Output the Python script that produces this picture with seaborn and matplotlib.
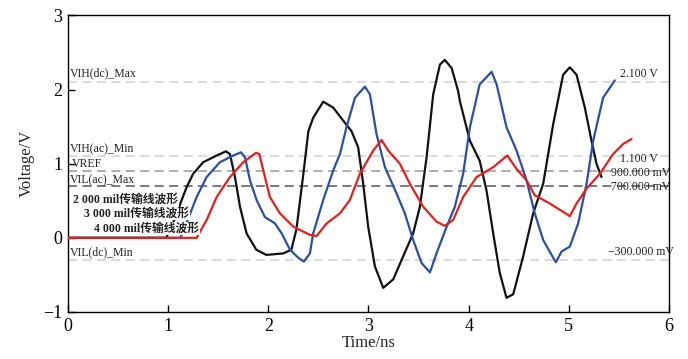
import matplotlib
matplotlib.use("Agg")
import matplotlib.pyplot as plt
import seaborn as sns
import pandas as pd

# ---- data ----
t_2000 = [0.0, 0.98, 1.05, 1.135, 1.185, 1.25, 1.35, 1.484, 1.577, 1.617, 1.667, 1.717, 1.783, 1.88, 1.98,
          2.15, 2.23, 2.28, 2.35, 2.40, 2.448, 2.548, 2.648, 2.748, 2.83, 2.897, 2.947, 2.997, 3.064,
          3.147, 3.247, 3.346, 3.446, 3.513, 3.58, 3.646, 3.713, 3.762, 3.83, 3.895, 3.912, 4.012, 4.11,
          4.178, 4.245, 4.31, 4.378, 4.445, 4.544, 4.644, 4.744, 4.844, 4.943, 5.01, 5.077, 5.16, 5.226,
          5.276, 5.326]
v_2000 = [0.0, 0.0, 0.2, 0.51, 0.685, 0.865, 1.02, 1.11, 1.167, 1.13, 0.82, 0.42, 0.06, -0.16, -0.23,
          -0.21, -0.16, 0.11, 0.865, 1.44, 1.62, 1.837, 1.756, 1.58, 1.44, 1.22, 0.73, 0.15, -0.386,
          -0.675, -0.56, -0.25, 0.06, 0.42, 1.087, 1.936, 2.337, 2.40, 2.29, 1.98, 1.846, 1.31, 1.04,
          0.64, 0.06, -0.47, -0.81, -0.76, -0.25, 0.33, 0.73, 1.534, 2.20, 2.30, 2.20, 1.756, 1.31,
          1.0, 0.82]

t_3000 = [0.0, 1.12, 1.16, 1.2, 1.284, 1.384, 1.517, 1.65, 1.727, 1.767, 1.817, 1.883, 1.966, 2.066, 2.133,
          2.216, 2.30, 2.355, 2.415, 2.448, 2.548, 2.648, 2.715, 2.78, 2.865, 2.964, 3.014, 3.08, 3.164,
          3.28, 3.363, 3.446, 3.53, 3.613, 3.68, 3.78, 3.862, 3.945, 4.012, 4.11, 4.229, 4.279, 4.378,
          4.478, 4.578, 4.66, 4.744, 4.87, 4.927, 5.01, 5.093, 5.177, 5.243, 5.342, 5.459]
v_3000 = [0.0, 0.0, 0.1, 0.26, 0.55, 0.82, 1.02, 1.11, 1.154, 1.087, 0.775, 0.51, 0.28, 0.195, 0.06,
          -0.16, -0.27, -0.32, -0.21, 0.06, 0.51, 0.91, 1.13, 1.49, 1.89, 2.04, 1.936, 1.40, 0.953,
          0.60, 0.33, -0.03, -0.34, -0.466, -0.206, 0.15, 0.42, 0.865, 1.49, 2.07, 2.24, 2.07, 1.49,
          1.177, 0.775, 0.33, -0.03, -0.33, -0.185, -0.118, 0.195, 0.73, 1.31, 1.89, 2.123]

t_4000 = [0.0, 1.284, 1.384, 1.484, 1.617, 1.75, 1.876, 1.91, 1.966, 2.016, 2.116, 2.25, 2.415, 2.482,
          2.582, 2.715, 2.814, 2.914, 3.047, 3.13, 3.197, 3.313, 3.413, 3.546, 3.68, 3.762, 3.845, 3.945,
          4.079, 4.245, 4.385, 4.478, 4.578, 4.66, 4.81, 4.943, 5.01, 5.077, 5.177, 5.31, 5.442, 5.542,
          5.626]
v_4000 = [0.0, 0.0, 0.24, 0.55, 0.82, 1.02, 1.146, 1.13, 0.82, 0.55, 0.33, 0.15, 0.04, 0.025,
          0.195, 0.33, 0.51, 0.865, 1.177, 1.32, 1.177, 1.0, 0.73, 0.42, 0.217, 0.163, 0.24, 0.55,
          0.82, 0.953, 1.11, 0.93, 0.775, 0.574, 0.463, 0.35, 0.293, 0.463, 0.664, 0.865, 1.13, 1.266,
          1.333]

series_names = ["2 000 mil传输线波形", "3 000 mil传输线波形", "4 000 mil传输线波形"]

ref_levels = [2.1, 1.1, 0.9, 0.7, -0.3]
ref_left_labels = ["VIH(dc)_Max", "VIH(ac)_Min", "VREF", "VIL(ac)_Max", "VIL(dc)_Min"]
ref_right_labels = ["2.100 V", "1.100 V", "900.000 mV", "700.000 mV", "\u2212300.000 mV"]

x_ticks = [0, 1, 2, 3, 4, 5, 6]
y_ticks = [-1, 0, 1, 2, 3]

# ---- plotting ----
sns.set_theme(style="white")
serif = ["Liberation Serif", "Noto Sans CJK SC", "DejaVu Sans"]
plt.rcParams["font.family"] = serif
plt.rcParams["axes.unicode_minus"] = True

fig = plt.figure(figsize=(6.88, 3.59), dpi=100)
ax = fig.add_axes([0.0988, 0.131, 0.8736, 0.826])

ref_colors = ["#d8d8d8", "#d8d8d8", "#a8a8a8", "#707070", "#d8d8d8"]
for lv, c in zip(ref_levels, ref_colors):
    ax.axhline(lv, color=c, lw=1.3, ls=(0, (5, 3)), zorder=1)

colors = ["#111111", "#2b4ea6", "#e3201b"]
for t, v, name, c in zip([t_2000, t_3000, t_4000], [v_2000, v_3000, v_4000], series_names, colors):
    df = pd.DataFrame({"t": t, "v": v})
    sns.lineplot(data=df, x="t", y="v", ax=ax, color=c, lw=1.6, sort=False, estimator=None, zorder=3)
for ln in ax.lines:
    ln.set_solid_joinstyle("round")
    ln.set_solid_capstyle("round")

ax.set_xlim(0, 6)
ax.set_ylim(-1, 3)
ax.set_xticks(x_ticks)
ax.set_yticks(y_ticks)
ax.set_yticklabels(["\u22121", "0", "1", "2", "3"])
ax.tick_params(direction="in", length=5, width=1, labelsize=13, colors="black",
               top=False, right=False, bottom=True, left=True, pad=4)
for sp in ax.spines.values():
    sp.set_color("black")
    sp.set_linewidth(1.0)
ax.set_xlabel("Time/ns", fontsize=12, labelpad=0)
ax.set_ylabel("Voltage/V", fontsize=12, labelpad=6)

# left reference labels
left_y = [2.22, 1.2, 0.99, 0.78, -0.2]
left_x = [0.02, 0.02, 0.04, 0.02, 0.02]
for lx, ly, txt in zip(left_x, left_y, ref_left_labels):
    ax.text(lx, ly, txt, fontsize=8.5, ha="left", va="center", color="#222222", zorder=4)

# right reference labels
right_x = [5.51, 5.51, 5.42, 5.42, 5.39]
right_y = [2.21, 1.07, 0.87, 0.69, -0.19]
for rx, ry, txt in zip(right_x, right_y, ref_right_labels):
    ax.text(rx, ry, txt, fontsize=8.5, ha="left", va="center", color="#222222", zorder=4)

# series labels (opaque background hides the curve starts, as in the reference)
lab_x = [0.05, 0.16, 0.26]
lab_y = [0.51, 0.33, 0.13]
for lx, ly, txt in zip(lab_x, lab_y, series_names):
    ax.text(lx, ly, txt, fontsize=8.5, ha="left", va="center", color="#222222",
            fontweight="bold", zorder=5,
            bbox=dict(boxstyle="square,pad=0.05", fc="white", ec="none"))

fig.savefig("out.png", dpi=100)
